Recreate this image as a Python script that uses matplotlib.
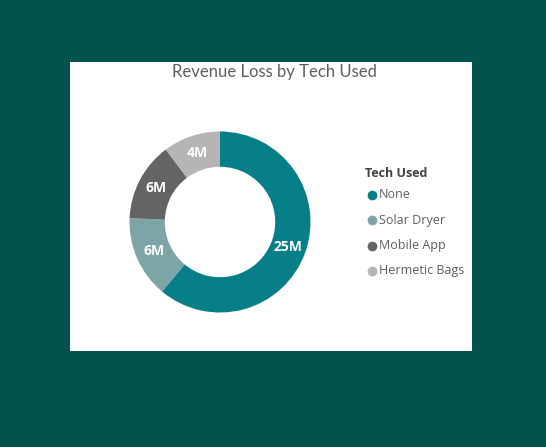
import matplotlib
matplotlib.use("Agg")
import numpy as np
import matplotlib.pyplot as plt
from matplotlib.patches import Rectangle
from matplotlib.lines import Line2D

# --- datos ---
tecnologias = ['None', 'Solar Dryer', 'Mobile App', 'Hermetic Bags']
perdida_m = [25.1, 6.0, 5.8, 4.2]   # millones
etiquetas = ['25M', '6M', '6M', '4M']
colores = ['#077F88', '#7DA4A6', '#646464', '#B5B5B5']

W, H = 546, 447
fig = plt.figure(figsize=(W / 100, H / 100), dpi=100)
fig.patch.set_facecolor('#03524D')

# panel blanco
fig.patches.append(Rectangle((70 / W, 1 - 351 / H), 402 / W, 289 / H,
                             transform=fig.transFigure, facecolor='white',
                             edgecolor='none', zorder=0))

# titulo
fig.text(274 / W, 1 - 72 / H, 'Revenue Loss by Tech Used', ha='center', va='center',
         fontsize=12, color='#605E5C', family='Lato')

# dona
cx, cy, r = 220, 222, 90.5
ax = fig.add_axes([(cx - r) / W, 1 - (cy + r) / H, 2 * r / W, 2 * r / H], zorder=3)
ax.patch.set_visible(False)
wedges, _ = ax.pie(perdida_m, colors=colores, startangle=90, counterclock=False,
                   radius=1, wedgeprops=dict(width=0.39, edgecolor='none'))
for w, lab in zip(wedges, etiquetas):
    ang = np.deg2rad((w.theta1 + w.theta2) / 2)
    ax.text(0.8 * np.cos(ang), 0.8 * np.sin(ang), lab, ha='center', va='center',
            color='white', fontsize=10, fontweight='bold', family='Open Sans')
ax.set_xlim(-1, 1)
ax.set_ylim(-1, 1)
ax.set_aspect('equal')
ax.axis('off')

# leyenda
fig.text(365 / W, 1 - 173 / H, 'Tech Used', ha='left', va='center', fontsize=9,
         fontweight='bold', color='#404040', family='Open Sans')
for i, (t, c) in enumerate(zip(tecnologias, colores)):
    y = 1 - (195 + 25.3 * i) / H
    fig.lines.append(Line2D([372 / W], [y], transform=fig.transFigure, marker='o',
                            markersize=6, color=c, linestyle='none'))
    fig.text(379 / W, y, t, ha='left', va='center', fontsize=9,
             color='#605E5C', family='Open Sans')

fig.savefig('out.png', dpi=100, facecolor=fig.get_facecolor())
